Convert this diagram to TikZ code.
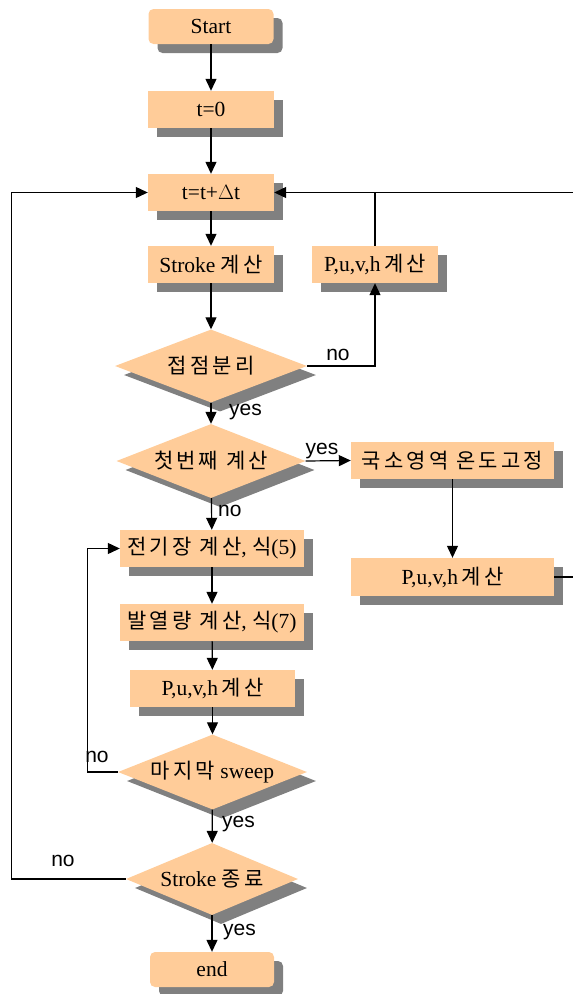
\documentclass[tikz,border=0pt]{standalone}
\usepackage{fontspec}
\setmainfont{Liberation Serif}
\newfontfamily\krfont[LetterSpace=15]{Noto Sans CJK KR}
\newfontfamily\lblfont{Liberation Sans}
\usetikzlibrary{shapes.geometric,arrows.meta,shadows}

\definecolor{boxfill}{RGB}{255,204,153}
\definecolor{shadowgray}{RGB}{128,128,128}

\tikzset{
  x=1pt, y=-1pt,
  shade9/.style={drop shadow={shadow xshift=9pt, shadow yshift=-9pt, fill=shadowgray, opacity=1}},
  proc/.style={shade9, fill=boxfill, inner sep=0pt, minimum height=37pt,
    font=\fontsize{21.5}{23}\selectfont, align=center},
  terminal/.style={proc, rounded corners=5pt, minimum height=35pt, minimum width=125pt},
  decision/.style={shade9, diamond, aspect=2.6, fill=boxfill, inner sep=0pt,
    font=\fontsize{21.5}{23}\selectfont},
  arr/.style={line width=1.2pt, -{Triangle[length=12pt,width=11pt]}},
  link/.style={line width=1.2pt},
  lbl/.style={font=\lblfont\fontsize{21}{23}\selectfont, inner sep=0pt},
}
\newcommand\kr[1]{{\krfont\fontsize{21}{23}\selectfont #1}}

\begin{document}
\begin{tikzpicture}
\useasboundingbox (0,0) rectangle (573,994);

% main column
\node[terminal] (start) at (211,26.5) {Start};
\node[proc, minimum width=126pt] (t0) at (211,109.5) {t=0};
\node[proc, minimum width=126pt] (tdt) at (211,192.5) {t=t+$\Delta$t};
\node[proc, minimum width=126pt] (stroke) at (211,264.5) {Stroke \kr{계산}};
\node[decision, minimum width=192pt, minimum height=73pt] (d1) at (211,366) {\kr{접점분리}};
\node[proc, minimum width=126pt] (puvhA) at (375,264.5) {P,u,v,h\,\kr{계산}};
\node[decision, minimum width=189pt, minimum height=74pt] (d2) at (211,461) {\kr{첫번째 계산}};
\node[proc, minimum width=203pt] (local) at (452.5,460.5) {\kr{국소영역 온도고정}};
\node[proc, minimum width=203pt, minimum height=38pt] (puvhB) at (452.5,577) {P,u,v,h\,\kr{계산}};
\node[proc, minimum width=184pt] (efield) at (212,548.5) {\kr{전기장 계산}, \kr{식}(5)};
\node[proc, minimum width=184pt] (heat) at (212,622.5) {\kr{발열량 계산}, \kr{식}(7)};
\node[proc, minimum width=165pt] (puvhC) at (212.5,688.5) {P,u,v,h\,\kr{계산}};
\node[decision, minimum width=189pt, minimum height=75pt] (d3) at (212.5,772) {\kr{마지막} sweep};
\node[decision, minimum width=172pt, minimum height=72pt] (d4) at (212,879) {Stroke \kr{종료}};
\node[terminal, minimum width=124pt] (end) at (212,969.5) {end};

% loose ends of the outer loop on the right
\coordinate (rtop) at (573,192.5);
\coordinate (rbot) at (573,577);

% straight flow
\draw[arr] (start) -- (t0);
\draw[arr] (t0) -- (tdt);
\draw[arr] (tdt) -- (stroke);
\draw[arr] (stroke) -- (d1);
\draw[arr] (d1) -- (d2);
\draw[arr] (d2) -- (efield);
\draw[arr] (efield) -- (heat);
\draw[arr] (heat) -- (puvhC);
\draw[arr] (puvhC) -- (d3);
\draw[arr] (d3) -- (d4);
\draw[arr] (d4) -- (end);

% branches
\draw[arr] (d1.east) -| (puvhA.south);
\draw[arr] (puvhA.north) |- (tdt.east);
\draw[link] (rtop) -- (puvhA.north |- rtop);
\draw[arr] (d2.east) -- (local.west);
\draw[arr] (local) -- (puvhB);
\draw[link] (puvhB.east) -- (rbot);
\draw[arr] (d3.west) -- ++(-30,0) |- (efield.west);
\draw[arr] (d4.west) -- ++(-114,0) |- (tdt.west);

% branch labels
\node[lbl, anchor=west] (y1) at (229,412) {yes};
\node[lbl, anchor=west] (n2) at (218,511) {no};
\node[lbl, anchor=west] (y3) at (222,824) {yes};
\node[lbl, anchor=west] (y4) at (223,932) {yes};
\node[lbl] (n1) at (338,355) {no};
\node[lbl] (y2) at (322,451) {yes};
\node[lbl] (n3) at (97,757) {no};
\node[lbl] (n4) at (63,861) {no};
\end{tikzpicture}
\end{document}
